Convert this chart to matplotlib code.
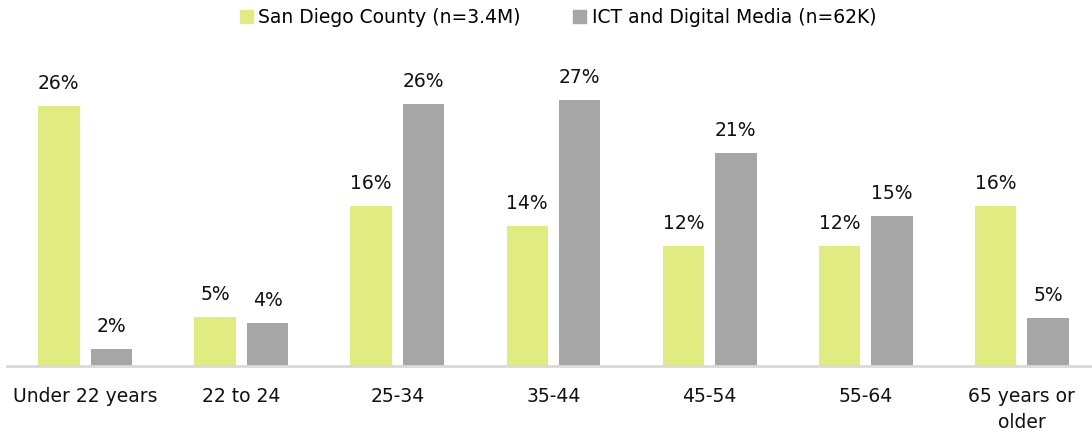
import numpy as np
import matplotlib.pyplot as plt
from matplotlib.patches import Patch

plt.rcParams['font.family'] = ['DejaVu Sans']

categories = ["Under 22 years", "22 to 24", "25-34", "35-44", "45-54", "55-64", "65 years or\nolder"]
san_diego = [26.0, 4.9, 16.0, 14.0, 12.0, 12.0, 16.0]
ict_media = [1.7, 4.3, 26.2, 26.6, 21.3, 15.0, 4.8]
series_names = ["San Diego County (n=3.4M)", "ICT and Digital Media (n=62K)"]

green = "#E1EC80"
gray = "#A6A6A6"

fig = plt.figure(figsize=(10.92, 4.34), dpi=100)
ax = fig.add_axes([7/1092, 68/434, 1093/1092, 300/434])

x = np.arange(len(categories))
w = 0.265
off = 0.168
b1 = ax.bar(x - off, san_diego, w, color=green)
b2 = ax.bar(x + off, ict_media, w, color=gray)

for bars, vals in ((b1, san_diego), (b2, ict_media)):
    for b, v in zip(bars, vals):
        ax.text(b.get_x() + b.get_width()/2, v + 1.3, f"{round(v)}%",
                ha="center", va="bottom", fontsize=13.5, color="#111111")

ax.set_xlim(-0.5, len(categories) - 0.5)
ax.set_ylim(0, 30)
ax.set_yticks([])
ax.set_xticks(x)
ax.set_xticklabels(categories, fontsize=13.5, color="#111111", linespacing=1.45)
ax.tick_params(axis="x", length=0, pad=15)
for s in ("top", "right", "left"):
    ax.spines[s].set_visible(False)
ax.spines["bottom"].set_color("#D9D9D9")
ax.spines["bottom"].set_linewidth(2)

handles = [Patch(color=green), Patch(color=gray)]
fig.legend(handles, series_names, loc="upper center", bbox_to_anchor=(0.511, 1.02),
           ncol=2, frameon=False, fontsize=13.5, handlelength=0.7, handleheight=0.7,
           handletextpad=0.3, columnspacing=2.8)

fig.savefig("out.png", dpi=100)
